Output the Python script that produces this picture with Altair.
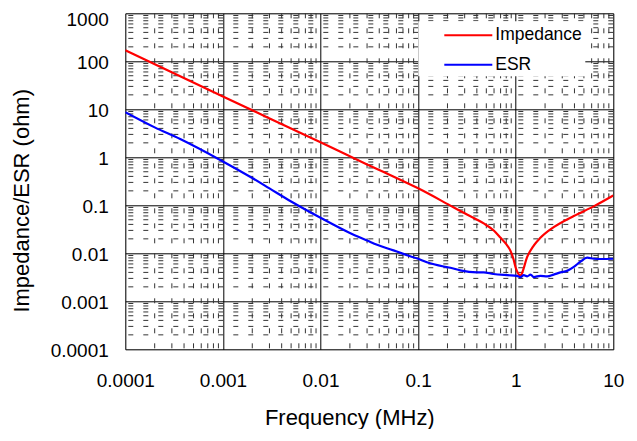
import altair as alt
import pandas as pd

# ---- data ----
freq_imp = [0.0001, 0.001, 0.01, 0.03, 0.0656, 0.1, 0.23, 0.3, 0.47, 0.6, 0.7,
            0.8, 0.88, 0.95, 1.0, 1.07, 1.12, 1.18, 1.3, 1.53, 1.79, 2.45, 3.94, 6.3, 10]
impedance = [170, 18.5, 2.05, 0.71, 0.34, 0.226, 0.091, 0.068, 0.042, 0.0295, 0.021,
             0.0155, 0.0115, 0.0075, 0.0050, 0.0037, 0.0034, 0.0042, 0.0080, 0.0145,
             0.021, 0.035, 0.060, 0.095, 0.16]

freq_esr = [0.0001, 0.0002, 0.000365, 0.001, 0.002, 0.003, 0.005, 0.01, 0.02, 0.03,
            0.038, 0.056, 0.066, 0.083, 0.1, 0.123, 0.183, 0.214, 0.27, 0.4, 0.47,
            0.59, 0.82, 1.03, 1.12, 1.21, 1.31, 1.42, 1.53, 1.79, 2.10, 2.45, 2.87,
            3.36, 3.94, 4.61, 5.40, 6.31, 7.39, 10]
esr = [8.7, 4.2, 2.4, 0.82, 0.37, 0.225, 0.12, 0.055, 0.0265, 0.0185,
       0.0150, 0.0115, 0.0102, 0.0087, 0.0077, 0.0065, 0.0053, 0.0050, 0.0044, 0.0040, 0.0040,
       0.0037, 0.0035, 0.0034, 0.0032, 0.0035, 0.0033, 0.0036, 0.0032, 0.0034, 0.0033, 0.0036, 0.0040,
       0.0043, 0.0052, 0.0067, 0.0081, 0.0077, 0.0076, 0.0077]

series_names = ["Impedance", "ESR"]
series_colors = ["#ff0000", "#0000ff"]

x_ticks = [0.0001, 0.001, 0.01, 0.1, 1, 10]
y_ticks = [0.0001, 0.001, 0.01, 0.1, 1, 10, 100, 1000]
minor_steps = [2, 3, 4, 5, 6, 7, 8, 9]
x_minor = [m * d for d in x_ticks[:-1] for m in minor_steps]
y_minor = [m * d for d in y_ticks[:-1] for m in minor_steps]

df = pd.DataFrame({
    "freq": freq_imp + freq_esr,
    "value": impedance + esr,
    "series": ["Impedance"] * len(impedance) + ["ESR"] * len(esr),
})

FONT = "Liberation Sans"

xscale = alt.Scale(type="log", domain=[x_ticks[0], x_ticks[-1]], nice=False)
yscale = alt.Scale(type="log", domain=[y_ticks[0], y_ticks[-1]], nice=False)

xaxis = alt.Axis(
    values=x_ticks, format="~g", title="Frequency (MHz)",
    grid=True, gridColor="black", gridOpacity=1, gridWidth=1,
    ticks=False, tickSize=0, domain=False,
    labelFont=FONT, labelFontSize=19, labelColor="black",
    labelBaseline="alphabetic", labelPadding=37, labelFlush=False, labelOverlap=False,
    titleFont=FONT, titleFontSize=22, titleFontWeight="normal", titleColor="black",
    titleX=224, titleY=75, titleBaseline="alphabetic", titleAlign="center",
)
yaxis = alt.Axis(
    values=y_ticks, format="~g", title="Impedance/ESR (ohm)",
    grid=True, gridColor="black", gridOpacity=1, gridWidth=1,
    ticks=False, tickSize=0, domain=False,
    labelFont=FONT, labelFontSize=19, labelColor="black",
    labelBaseline="middle", labelPadding=17, labelOverlap=False, labelFlush=False,
    labelOffset={"expr": "datum.value >= 1000 ? 6.5 : 1"},
    titleFont=FONT, titleFontSize=22, titleFontWeight="normal", titleColor="black",
    titleAngle=270, titleX=-97, titleY=187, titleBaseline="alphabetic", titleAlign="center",
)

vminor = alt.Chart(pd.DataFrame({"freq": x_minor})).mark_rule(
    color="#333", strokeWidth=1, strokeDash=[5, 10]
).encode(x=alt.X("freq:Q", scale=xscale, axis=xaxis))

hminor = alt.Chart(pd.DataFrame({"value": y_minor})).mark_rule(
    color="#333", strokeWidth=1, strokeDash=[5, 10]
).encode(y=alt.Y("value:Q", scale=yscale, axis=yaxis))

lines = alt.Chart(df).mark_line(strokeWidth=2.2, interpolate="monotone", clip=True).encode(
    x=alt.X("freq:Q", scale=xscale, axis=xaxis),
    y=alt.Y("value:Q", scale=yscale, axis=yaxis),
    color=alt.Color(
        "series:N",
        scale=alt.Scale(domain=series_names, range=series_colors),
        sort=series_names,
        legend=alt.Legend(
            title=None, orient="none", legendX=293, legendY=8,
            fillColor="white", padding=3, rowPadding=9.5,
            symbolType="M-1,0H3.8", symbolSize=400, symbolStrokeWidth=2,
            symbolOffset=22, labelOffset=30,
            labelFont=FONT, labelFontSize=17.5, labelColor="black",
        ),
    ),
    order=alt.Order("freq:Q"),
    detail="series:N",
)

chart = alt.layer(vminor, hminor, lines).properties(
    width=488, height=336,
    autosize=alt.AutoSizeParams(type="none"),
    padding={"left": 117.3, "top": 5.3, "right": 12, "bottom": 80},
).configure_view(stroke="black", strokeWidth=1.5).configure(background="white")

chart.save("out.html", embed_options={"renderer": "svg", "actions": False})
